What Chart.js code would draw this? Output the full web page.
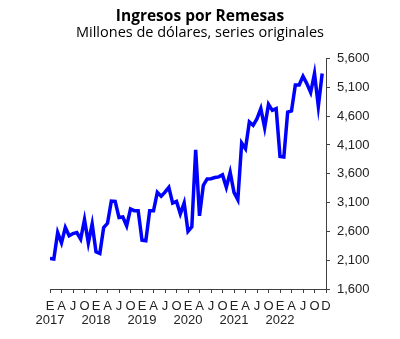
<!DOCTYPE html>
<html lang="es">
  <head>
    <meta charset="UTF-8" />
    <title>Ingresos por Remesas</title>
    <style>
      body {
        margin: 0;
        background: white;
      }
      .wrap {
        width: 400px;
        height: 339px;
      }
    </style>
    <script src="https://cdn.jsdelivr.net/npm/chart.js"></script>
  </head>
  <body>
    <div class="wrap">
      <canvas id="remesasChart" width="400" height="339"></canvas>
    </div>

    <script>
      // Millones de dólares, series originales
      const years = ["2017", "2018", "2019", "2020", "2021", "2022"];
      const quarterLetters = ["E", "A", "J", "O"];
      const lastLetter = "D";

      const r2017 = [2130, 2120, 2580, 2400, 2667, 2523, 2563, 2580, 2465, 2805, 2400, 2730];
      const r2018 = [2244, 2215, 2667, 2740, 3125, 3120, 2841, 2850, 2697, 2990, 2960, 2960];
      const r2019 = [2445, 2436, 2958, 2958, 3277, 3210, 3280, 3364, 3090, 3120, 2905, 3095];
      const r2020 = [2600, 2680, 4015, 2870, 3400, 3510, 3515, 3535, 3545, 3580, 3364, 3625];
      const r2021 = [3277, 3150, 4135, 4035, 4500, 4440, 4555, 4730, 4400, 4805, 4700, 4730];
      const r2022 = [3900, 3890, 4670, 4690, 5140, 5140, 5290, 5165, 5010, 5340, 4770, 5340];

      const yMin = 1600;
      const yMax = 5600;
      const yStep = 500;

      const values = [].concat(r2017, r2018, r2019, r2020, r2021, r2022);
      const points = values.map((v, i) => ({ x: i, y: v }));
      const nMonths = years.length * 12;

      const axisColor = "#404040";
      const tickFont = { family: "'Liberation Sans', Arial, sans-serif", size: 13 };

      function xLabel(value) {
        if (value === nMonths) return lastLetter;
        if (value % 3 !== 0) return "";
        const q = (value % 12) / 3;
        if (q === 0) return [quarterLetters[0], years[value / 12]];
        return quarterLetters[q];
      }

      new Chart(document.getElementById("remesasChart"), {
        type: "line",
        data: {
          datasets: [
            {
              label: "Remesas",
              data: points,
              yAxisID: "y",
              borderColor: "#0000ff",
              borderWidth: 3.5,
              pointRadius: 0,
              tension: 0,
              fill: false,
            },
          ],
        },
        options: {
          responsive: false,
          animation: false,
          layout: { padding: 0 },
          plugins: {
            legend: { display: false },
            tooltip: { enabled: false },
            title: {
              display: true,
              text: "Ingresos por Remesas",
              color: "#000",
              font: { family: "'Open Sans'", size: 15.5, weight: "bold", lineHeight: 1 },
              padding: { top: 8.5, bottom: 1.5 },
            },
            subtitle: {
              display: true,
              text: "Millones de dólares, series originales",
              color: "#000",
              font: { family: "'Open Sans'", size: 14.5, lineHeight: 1 },
              padding: { top: 0, bottom: 18.5 },
            },
          },
          scales: {
            x: {
              type: "linear",
              min: 0,
              max: nMonths,
              afterFit: (s) => {
                s.height = 50;
              },
              afterBuildTicks: (s) => {
                const t = [];
                for (let i = 0; i <= nMonths; i += 3) t.push({ value: i });
                s.ticks = t;
              },
              ticks: {
                autoSkip: false,
                maxRotation: 0,
                minRotation: 0,
                padding: 6,
                color: "#222",
                font: { family: tickFont.family, size: 13, lineHeight: 1.12 },
                callback: xLabel,
              },
              grid: {
                drawOnChartArea: false,
                drawTicks: true,
                tickLength: 4,
                tickColor: axisColor,
              },
              border: { display: true, color: axisColor, width: 1 },
            },
            y: {
              position: "right",
              min: yMin,
              max: yMax,
              afterFit: (s) => {
                s.width = 74;
              },
              ticks: {
                stepSize: yStep,
                padding: 7,
                color: "#222",
                font: tickFont,
                callback: (v) => v.toLocaleString("en-US"),
              },
              grid: {
                drawOnChartArea: false,
                drawTicks: true,
                tickLength: 4,
                tickColor: axisColor,
              },
              border: { display: true, color: axisColor, width: 1 },
            },
            // empty left box so the plot starts at x = 50
            spacer: {
              position: "left",
              display: true,
              afterFit: (s) => {
                s.width = 50;
              },
              ticks: { display: false },
              grid: { display: false, drawTicks: false },
              border: { display: false },
            },
          },
        },
      });
    </script>
  </body>
</html>
